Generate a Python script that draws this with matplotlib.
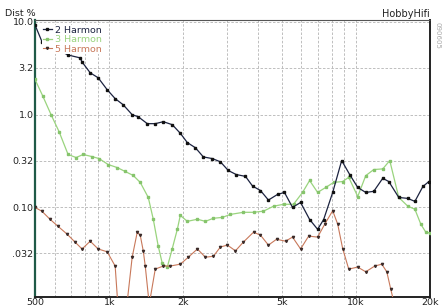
import matplotlib
matplotlib.use("Agg")
import matplotlib.pyplot as plt
from matplotlib.ticker import FixedLocator, NullFormatter, LogLocator

# ---- data ----
h2_freq = [500, 534, 575, 620, 681, 762, 776, 837, 902, 981, 1057, 1139, 1239, 1311,
           1427, 1537, 1657, 1802, 1942, 2074, 2236, 2409, 2622, 2825, 3040, 3275,
           3570, 3812, 4106, 4423, 4816, 5137, 5539, 5973, 6499, 7003, 7408, 8061,
           8766, 9449, 10184, 10975, 11828, 12865, 13610, 14940, 16260, 17366,
           18716, 19790]
h2_val = [9.3, 6.1, 5.7, 5.0, 4.4, 4.1, 3.7, 2.83, 2.5, 1.86, 1.49, 1.28, 1.0, 0.95,
          0.80, 0.80, 0.84, 0.78, 0.63, 0.50, 0.44, 0.35, 0.336, 0.31, 0.25, 0.226,
          0.216, 0.17, 0.152, 0.12, 0.138, 0.145, 0.10, 0.113, 0.074, 0.058, 0.074,
          0.145, 0.32, 0.226, 0.164, 0.145, 0.149, 0.206, 0.19, 0.128, 0.125, 0.116,
          0.168, 0.19]

h3_freq = [500, 537, 581, 626, 681, 734, 784, 852, 910, 990, 1077, 1161, 1251, 1336,
           1440, 1509, 1581, 1641, 1720, 1802, 1889, 1942, 2074, 2278, 2455, 2645,
           2879, 3102, 3499, 3848, 4222, 4640, 5094, 5590, 6083, 6499, 7003, 7549,
           8135, 8847, 9363, 10184, 10975, 11828, 12865, 13735, 14940, 16260, 17366,
           18365, 19236, 19975]
h3_val = [2.4, 1.6, 1.0, 0.656, 0.372, 0.345, 0.372, 0.353, 0.336, 0.29, 0.269,
          0.244, 0.221, 0.186, 0.128, 0.0745, 0.038, 0.025, 0.0227, 0.036, 0.058,
          0.082, 0.0707, 0.0745, 0.0707, 0.0763, 0.078, 0.084, 0.0885, 0.0885, 0.091,
          0.103, 0.108, 0.108, 0.145, 0.195, 0.145, 0.164, 0.186, 0.19, 0.211, 0.131,
          0.22, 0.256, 0.26, 0.32, 0.128, 0.103, 0.0955, 0.0657, 0.054, 0.053]

h5_freq = [500, 534, 575, 620, 675, 727, 776, 837, 902, 981, 1057, 1087, 1160, 1239,
           1299, 1336, 1374, 1400, 1453, 1537, 1657, 1769, 1942, 2093, 2278, 2455,
           2645, 2825, 3016, 3251, 3499, 3848, 4106, 4423, 4771, 5189, 5539, 5973,
           6439, 7003, 7478, 8061, 8445, 8847, 9363, 10184, 10975, 11937, 12748,
           13360, 13863, 14500]
h5_val = [0.10, 0.0906, 0.0745, 0.0625, 0.0514, 0.0422, 0.0356, 0.0432, 0.0356,
          0.0332, 0.0233, 0.008, 0.006, 0.029, 0.054, 0.050, 0.034, 0.0233, 0.009,
          0.0216, 0.0233, 0.0233, 0.0244, 0.029, 0.0356, 0.029, 0.0297, 0.0374,
          0.0392, 0.034, 0.0422, 0.054, 0.0502, 0.0392, 0.0453, 0.0432, 0.0478,
          0.0356, 0.049, 0.0478, 0.0657, 0.092, 0.066, 0.036, 0.0216, 0.0227, 0.0202,
          0.0233, 0.0244, 0.0202, 0.0131, 0.008]

series_names = ["2 Harmon", "3 Harmon", "5 Harmon"]
y_ticks = [10.0, 3.2, 1.0, 0.32, 0.10, 0.032]
y_tick_labels = ["10.0", "3.2", "1.0", "0.32", "0.10", ".032"]
x_ticks = [500, 1000, 2000, 5000, 10000, 20000]
x_tick_labels = ["500", "1k", "2k", "5k", "10k", "20k"]

# ---- figure ----
fig = plt.figure(figsize=(4.44, 3.07), dpi=100)
ax = fig.add_axes([35/444, 1 - 297/307, (430-35)/444, (297-20)/307])
ax.set_xscale("log")
ax.set_yscale("log")
ax.set_xlim(500, 20000)
ax.set_ylim(0.0108, 10.5)

c2, c3, c5 = "#1c2340", "#9ad47e", "#c8785a"
ax.plot(h3_freq, h3_val, color=c3, lw=0.9, marker="s", ms=1.6, mfc="#86c46c",
        mec="#86c46c", label=series_names[1], zorder=3)
ax.plot(h5_freq, h5_val, color=c5, lw=0.8, marker="v", ms=1.6, mfc="#3a2a28",
        mec="#3a2a28", label=series_names[2], zorder=4)
ax.plot(h2_freq, h2_val, color=c2, lw=0.9, marker="s", ms=1.6, mfc="#111111",
        mec="#111111", label=series_names[0], zorder=5)

# grid
ax.yaxis.set_major_locator(FixedLocator(y_ticks))
ax.yaxis.set_minor_locator(FixedLocator([]))
ax.set_yticklabels(y_tick_labels)
ax.xaxis.set_major_locator(FixedLocator(x_ticks))
ax.xaxis.set_minor_locator(LogLocator(base=10, subs=range(2, 10)))
ax.xaxis.set_minor_formatter(NullFormatter())
ax.set_xticklabels(x_tick_labels)
ax.grid(True, which="major", axis="y", color="#b4b4b4", ls=(0, (3, 2)), lw=0.6)
ax.grid(True, which="both", axis="x", color="#b4b4b4", ls=(0, (3, 2)), lw=0.6)
ax.tick_params(axis="both", which="both", length=0, labelsize=6.8, pad=1,
               colors="#222222")

ax.spines["left"].set_color("#1f5a48")
ax.spines["left"].set_linewidth(1.6)
for s in ["right", "bottom"]:
    ax.spines[s].set_color("#222222")
    ax.spines[s].set_linewidth(1.4)
ax.spines["top"].set_color("#555555")
ax.spines["top"].set_linestyle((0, (1, 1)))
ax.spines["top"].set_linewidth(0.8)

# legend
h, l = ax.get_legend_handles_labels()
order = [2, 0, 1]
leg = ax.legend([h[i] for i in order], [l[i] for i in order], loc="upper left",
                bbox_to_anchor=(0.012, 0.99), fontsize=6.8, frameon=True,
                facecolor="white", edgecolor="none", framealpha=1.0,
                handlelength=1.0, handletextpad=0.3, labelspacing=0.05,
                borderpad=0.1, borderaxespad=0.2)
for txt, col in zip(leg.get_texts(), [c2, c3, c5]):
    txt.set_color(col)
leg.set_zorder(10)

fig.text(5/444, 1 - 14/307, "Dist %", fontsize=6.8, color="#222222", va="center")
fig.text(430/444, 1 - 14/307, "HobbyHifi", fontsize=7, color="#222222",
         va="center", ha="right")
fig.text(437/444, 1 - 35/307, "090605", fontsize=5, color="#aaaaaa",
         rotation=-90, va="center", ha="center")

fig.savefig("out.png", dpi=100, facecolor="white")
